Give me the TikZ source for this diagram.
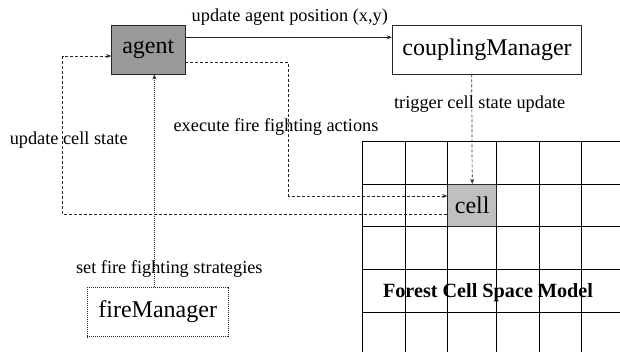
\documentclass[tikz,border=0pt]{standalone}
\usepackage{fontspec}
\setmainfont{Liberation Serif}
\usetikzlibrary{arrows.meta,calc}
\begin{document}
\begin{tikzpicture}[x=1pt,y=-1pt,
  box/.style={draw=black!85,line width=0.8pt,inner sep=0pt,font=\fontsize{24}{28}\selectfont},
  lbl/.style={inner sep=0pt,font=\fontsize{18.3}{22}\selectfont},
  conn/.style={line width=0.7pt,draw=black!85,-{Stealth[length=5pt,width=4pt]}},
  dsh/.style={dash pattern=on 3pt off 2pt},
  dtt/.style={dash pattern=on 1pt off 1pt},
  gridline/.style={line width=0.8pt,draw=black}]
\useasboundingbox (0,0) rectangle (620,352);
% grid
\foreach \x in {362.3,405,447.7,496.7,539,581.7}
  \draw[gridline] (\x,141.7) -- (\x,352);
\foreach \y in {141.7,184.3,226.7,269.3,312.3}
  \draw[gridline] (362.3,\y) -- (620,\y);
% nodes
\node[box,fill=black!40,minimum width=73.3pt,minimum height=49pt] (agent) at (148.3,49.5) {agent};
\node[box,fill=white,minimum width=189.7pt,minimum height=49pt] (cm) at (487,49.5) {couplingManager};
\node[box,fill=black!25,minimum width=49pt,minimum height=42.6pt] (cell) at (472.2,205.5) {cell};
\node[box,dtt,fill=white,minimum width=140.7pt,minimum height=49.4pt] (fm) at (157.7,312) {fireManager};
\node[inner sep=0pt,font=\bfseries\fontsize{20.2}{24}\selectfont] (forest) at (488,292.7) {Forest Cell Space Model};
% coordinates
\coordinate (exc) at (288.7,196);
\coordinate (upd) at (62.7,56);
% connectors
\draw[conn] ($(agent.east)+(0,-12.2)$) -- ($(cm.west)+(0,-12.2)$);
\draw[conn,dsh] ($(cm.south)+(-15.3,0)$) -- (cell.north);
\draw[conn,dsh] ($(agent.east)+(0,12.8)$) -| (exc) -- ($(cell.west)+(0,-9.5)$);
\draw[conn,dsh] ($(cell.west)+(0,8.8)$) -| (upd) -- ($(agent.west)+(0,6.5)$);
\draw[conn,dtt] ($(fm.north)+(-3.4,0)$) -- ($(agent.south)+(6,0)$);
% labels
\node[lbl] (l1) at (289.8,17) {update agent position (x,y)};
\node[lbl] (l2) at (479.7,104) {trigger cell state update};
\node[lbl] (l3) at (276,127.5) {execute fire fighting actions};
\node[lbl] (l4) at (68.7,140.5) {update cell state};
\node[lbl] (l5) at (169.3,269.5) {set fire fighting strategies};
\end{tikzpicture}
\end{document}
